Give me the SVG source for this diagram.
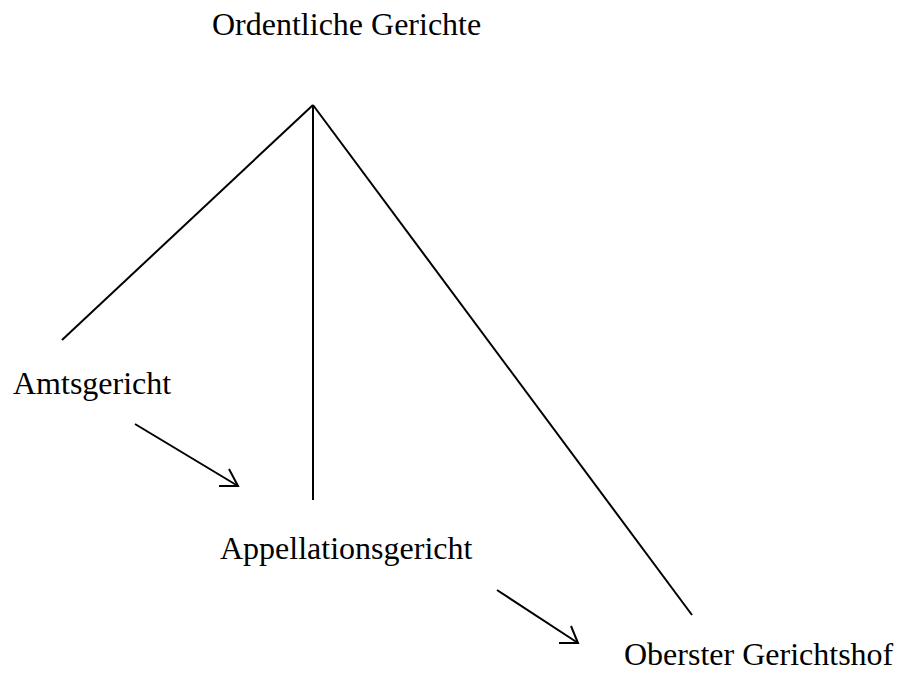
<svg xmlns="http://www.w3.org/2000/svg" width="898" height="675" viewBox="0 0 898 675">
<style>
.t{font-family:"Liberation Serif","Times New Roman",serif;font-size:32px;fill:#000}
.c{stroke:#000;stroke-width:2;fill:none}
</style>
<rect width="898" height="675" fill="#fff"/>
<g id="connectors">
<line class="c" x1="313" y1="105" x2="62" y2="340"/>
<line class="c" x1="313" y1="105" x2="313" y2="500"/>
<line class="c" x1="313" y1="105" x2="692" y2="615"/>
<line class="c" x1="135" y1="424" x2="238" y2="486"/>
<polyline class="c" points="219,486 238,486 229,469"/>
<line class="c" x1="497" y1="590" x2="578" y2="643"/>
<polyline class="c" points="559,643 578,643 571,626"/>
</g>
<g id="ordentliche"><text class="t" x="212" y="35">Ordentliche Gerichte</text></g>
<g id="amtsgericht"><text class="t" x="13" y="394">Amtsgericht</text></g>
<g id="appellationsgericht"><text class="t" x="220" y="559">Appellationsgericht</text></g>
<g id="oberster"><text class="t" x="624" y="665">Oberster Gerichtshof</text></g>
</svg>
